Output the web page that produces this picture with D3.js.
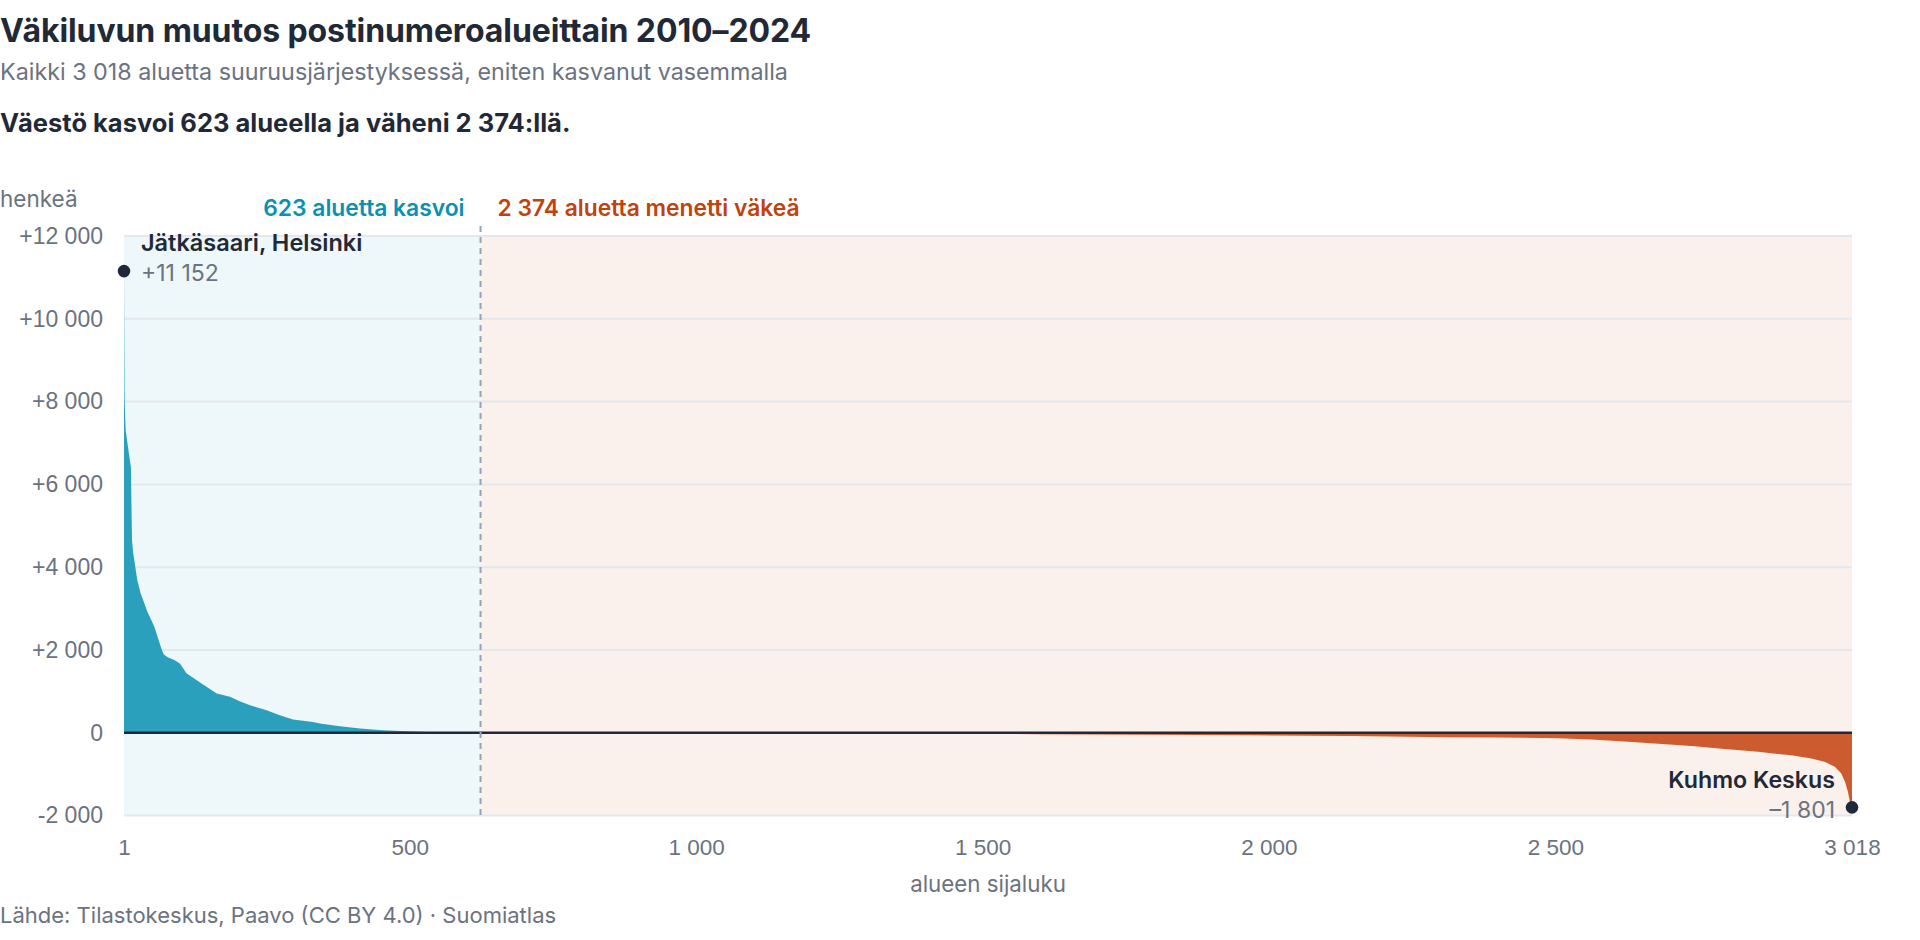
<!DOCTYPE html>
<html lang="fi">
<head>
<meta charset="utf-8">
<title>Väkiluvun muutos postinumeroalueittain 2010–2024</title>
<script src="https://cdn.jsdelivr.net/npm/d3@7"></script>
<style>
  html, body { margin: 0; padding: 0; background: #ffffff; }
  svg { display: block; font-family: Inter, "Noto Sans", "DejaVu Sans", sans-serif; }
</style>
</head>
<body>
<svg id="chart" width="1920" height="940"></svg>
<script>
// ---- Data ----
const titleText = "Väkiluvun muutos postinumeroalueittain 2010–2024";
const subtitleText = "Kaikki 3 018 aluetta suuruusjärjestyksessä, eniten kasvanut vasemmalla";
const leadText = "Väestö kasvoi 623 alueella ja väheni 2 374:llä.";
const sourceText = "Lähde: Tilastokeskus, Paavo (CC BY 4.0) · Suomiatlas";
const yUnit = "henkeä";
const xTitle = "alueen sijaluku";

const totalAreas = 3018;
const grewCount = 623;
const shrankCount = 2374;
const groupLabels = ["623 aluetta kasvoi", "2 374 aluetta menetti väkeä"];

// rank of area (1 = largest growth) and population change at that rank
const ranks = [
  1, 2, 3, 4, 6, 8, 11, 13, 14, 15, 17, 19, 24, 30, 36, 42, 48, 54, 60, 66,
  70, 78, 89, 99, 110, 128, 145, 163, 186, 203, 221, 250, 273, 296, 331, 343,
  378, 413, 453, 494, 529, 570, 600, 623, 624, 644, 645, 800, 1000, 1200, 1400,
  1600, 1790, 1965, 2139, 2313, 2400, 2505, 2563, 2621, 2680, 2738, 2796, 2854,
  2912, 2947, 2970, 2988, 2999, 3006, 3011, 3014, 3018
];
const changes = [
  11152, 8150, 7600, 7300, 7100, 6900, 6600, 6420, 5500, 4650, 4350, 4170, 3700,
  3370, 3150, 2920, 2740, 2560, 2300, 2050, 1900, 1820, 1760, 1670, 1440, 1270,
  1110, 950, 870, 760, 667, 546, 425, 321, 263, 225, 160, 104, 63, 39, 22, 12, 6,
  1, 0, 0, -1, -5, -10, -16, -24, -33, -45, -62, -80, -105, -115, -130, -160,
  -210, -265, -320, -390, -460, -545, -620, -700, -820, -980, -1190, -1430,
  -1650, -1801
];

const yTicks = [-2000, 0, 2000, 4000, 6000, 8000, 10000, 12000];
const xTicks = [1, 500, 1000, 1500, 2000, 2500, 3018];

const topArea = { name: "Jätkäsaari, Helsinki", rank: 1, value: 11152 };
const bottomArea = { name: "Kuhmo Keskus", rank: 3018, value: -1801 };

// ---- Styling ----
const C = {
  title: "#1f2937", sub: "#6b7280", grid: "#e5e7eb",
  posBg: "#eef7fa", negBg: "#fbf1ec", pos: "#2ba0bc", neg: "#cc5b2f",
  posText: "#0891b2", negText: "#c2410c", zero: "#1f2937", dash: "#94a3b8", dot: "#1e293b"
};

const fiLocale = d3.formatLocale({ decimal: ",", thousands: "\u00a0", grouping: [3], currency: ["", " €"], minus: "-" });
const fmtInt = fiLocale.format(",d");
const fmtSigned = v => v > 0 ? "+" + fmtInt(v) : fmtInt(v);

const svg = d3.select("#chart");
const m = { left: 124, right: 1852, top: 236, bottom: 815.6 };

const x = d3.scaleLinear().domain([1, totalAreas]).range([m.left, m.right]);
const y = d3.scaleLinear().domain([-2000, 12000]).range([m.bottom, m.top]);

// Titles
svg.append("text").attr("x", 0).attr("y", 42).attr("fill", C.title)
  .attr("font-size", 32).attr("font-weight", 700).attr("letter-spacing", -0.1).text(titleText);
svg.append("text").attr("x", 0).attr("y", 80).attr("fill", C.sub)
  .attr("font-size", 23.3).text(subtitleText);
svg.append("text").attr("x", 0).attr("y", 132).attr("fill", C.title)
  .attr("font-size", 25.5).attr("font-weight", 700).text(leadText);

// Backgrounds for the two groups
const splitX = x(grewCount + 0.5);
svg.append("rect").attr("x", m.left).attr("y", m.top).attr("width", splitX - m.left)
  .attr("height", m.bottom - m.top).attr("fill", C.posBg);
svg.append("rect").attr("x", splitX).attr("y", m.top).attr("width", m.right - splitX)
  .attr("height", m.bottom - m.top).attr("fill", C.negBg);

// Gridlines
svg.append("g").selectAll("line").data(yTicks.filter(d => d !== 0)).join("line")
  .attr("x1", m.left).attr("x2", m.right)
  .attr("y1", d => y(d)).attr("y2", d => y(d))
  .attr("stroke", C.grid).attr("stroke-width", 2);

// Y axis (labels only)
const yAxis = d3.axisLeft(y).tickValues(yTicks).tickSize(0).tickPadding(0).tickFormat(fmtSigned);
const gy = svg.append("g").attr("transform", `translate(${m.left - 21},0)`).call(yAxis);
gy.select(".domain").remove();
gy.selectAll("text").attr("fill", C.sub).attr("font-size", 23).attr("font-family", null);

svg.append("text").attr("x", 0).attr("y", 207).attr("fill", C.sub)
  .attr("font-size", 22.5).text(yUnit);

// X axis (labels only)
const xAxis = d3.axisBottom(x).tickValues(xTicks).tickSize(0).tickPadding(0).tickFormat(fmtInt);
const gx = svg.append("g").attr("transform", `translate(0,${m.bottom + 23})`).call(xAxis);
gx.select(".domain").remove();
gx.selectAll("text").attr("fill", C.sub).attr("font-size", 22.5).attr("font-family", null).attr("dy", "0.71em");

svg.append("text").attr("x", (m.left + m.right) / 2).attr("y", 892).attr("text-anchor", "middle")
  .attr("fill", C.sub).attr("font-size", 22.3).text(xTitle);

// Areas
const pts = ranks.map((r, i) => ({ r, v: changes[i] }));
const area = d3.area().x(d => x(d.r)).y0(y(0)).curve(d3.curveLinear);

svg.append("path")
  .datum(pts.filter(d => d.r <= 644))
  .attr("d", area.y1(d => y(Math.max(0, d.v))))
  .attr("fill", C.pos);
svg.append("path")
  .datum(pts.filter(d => d.r >= 624))
  .attr("d", area.y1(d => y(Math.min(0, d.v))))
  .attr("fill", C.neg);

// Zero line
svg.append("line").attr("x1", m.left).attr("x2", m.right).attr("y1", y(0)).attr("y2", y(0))
  .attr("stroke", C.zero).attr("stroke-width", 2.5);

// Split line
svg.append("line").attr("x1", splitX).attr("x2", splitX).attr("y1", 226).attr("y2", m.bottom)
  .attr("stroke", C.dash).attr("stroke-width", 2).attr("stroke-dasharray", "6,5");

// Group labels
svg.append("text").attr("x", splitX - 16).attr("y", 216).attr("text-anchor", "end")
  .attr("fill", C.posText).attr("font-size", 22.8).attr("font-weight", 600).text(groupLabels[0]);
svg.append("text").attr("x", splitX + 17).attr("y", 216)
  .attr("fill", C.negText).attr("font-size", 22.8).attr("font-weight", 600).text(groupLabels[1]);

// Annotations
svg.append("circle").attr("cx", x(topArea.rank)).attr("cy", y(topArea.value)).attr("r", 6.3).attr("fill", C.dot);
svg.append("text").attr("x", x(topArea.rank) + 17).attr("y", 251).attr("fill", C.title)
  .attr("font-size", 23.5).attr("font-weight", 600).text(topArea.name);
svg.append("text").attr("x", x(topArea.rank) + 17).attr("y", 281).attr("fill", C.sub)
  .attr("font-size", 23).text(fmtSigned(topArea.value));

svg.append("circle").attr("cx", x(bottomArea.rank)).attr("cy", y(bottomArea.value)).attr("r", 6.3).attr("fill", C.dot);
svg.append("text").attr("x", x(bottomArea.rank) - 17).attr("y", 788).attr("text-anchor", "end")
  .attr("fill", C.title).attr("font-size", 23.2).attr("font-weight", 600).text(bottomArea.name);
svg.append("text").attr("x", x(bottomArea.rank) - 17).attr("y", 818).attr("text-anchor", "end")
  .attr("fill", C.sub).attr("font-size", 23).text(fmtInt(bottomArea.value).replace("-", "–"));

// Source
svg.append("text").attr("x", 0).attr("y", 923).attr("fill", C.sub)
  .attr("font-size", 22).text(sourceText);
</script>
</body>
</html>
